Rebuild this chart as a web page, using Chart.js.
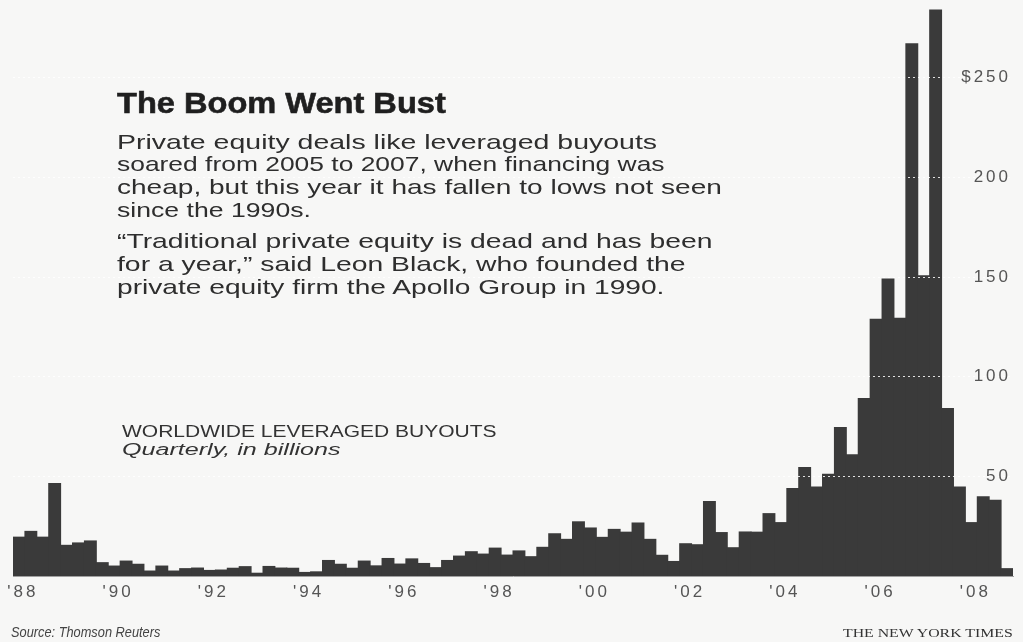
<!DOCTYPE html>
<html>
<head>
<meta charset="utf-8">
<title>The Boom Went Bust</title>
<script src="https://cdn.jsdelivr.net/npm/chart.js@4.4.0/dist/chart.umd.min.js"></script>
<style>
	html, body { margin: 0; padding: 0; background: #f7f7f6; }
	#wrap { position: relative; width: 1023px; height: 642px; overflow: hidden; }
	#lbo-chart { position: absolute; left: 0; top: 0; }
	.t {
		position: absolute;
		white-space: nowrap;
		line-height: 1;
		transform-origin: 0 0;
		font-family: "Liberation Sans", Arial, Helvetica, sans-serif;
		color: #2e2e2e;
	}
	.title { font-weight: bold; font-size: 30px; color: #1f1f1f; -webkit-text-stroke: 0.6px #1f1f1f; }
	.body { font-size: 21px; }
	.kicker { font-size: 16px; color: #333; }
	.note { font-size: 16px; font-style: italic; color: #333; }
	.source { font-size: 14px; font-style: italic; color: #444; }
	.credit { font-family: "Liberation Serif", "Times New Roman", serif; font-size: 12px; color: #333; }
</style>
</head>
<body>
<div id="wrap">
	<canvas id="lbo-chart" width="1023" height="642"></canvas>

	<div class="t title" style="left:117px;top:88px" data-w="329">The Boom Went Bust</div>
	<div class="t body" style="left:117px;top:131px" data-w="540">Private equity deals like leveraged buyouts</div>
	<div class="t body" style="left:117px;top:153px" data-w="547">soared from 2005 to 2007, when financing was</div>
	<div class="t body" style="left:117px;top:176px" data-w="605">cheap, but this year it has fallen to lows not seen</div>
	<div class="t body" style="left:117px;top:199px" data-w="194">since the 1990s.</div>
	<div class="t body" style="left:117px;top:230px" data-w="596">“Traditional private equity is dead and has been</div>
	<div class="t body" style="left:117px;top:253px" data-w="568">for a year,” said Leon Black, who founded the</div>
	<div class="t body" style="left:117px;top:276px" data-w="548">private equity firm the Apollo Group in 1990.</div>

	<div class="t kicker" style="left:122px;top:424px" data-w="374">WORLDWIDE LEVERAGED BUYOUTS</div>
	<div class="t note" style="left:122px;top:442px" data-w="218">Quarterly, in billions</div>

	<div class="t source" style="left:11px;top:625px" data-w="149">Source: Thomson Reuters</div>
	<div class="t credit" style="left:843px;top:627px" data-w="170">THE NEW YORK TIMES</div>
</div>

<script>
// Worldwide leveraged buyouts, quarterly, in billions of dollars
const years = [
	1988, 1989, 1990, 1991, 1992, 1993, 1994, 1995, 1996, 1997, 1998,
	1999, 2000, 2001, 2002, 2003, 2004, 2005, 2006, 2007, 2008,
];
const quarterNames = [ 'Q1', 'Q2', 'Q3', 'Q4' ];

// one row per year, Q1..Q4
const buyouts = [
	19.5, 22.4, 19.5, 46.4, // 1988
	15.4, 16.6, 17.6, 6.7, // 1989
	5.0, 7.5, 5.9, 2.5, // 1990
	5.0, 2.5, 3.7, 4.0, // 1991
	2.8, 3.0, 3.9, 4.7, // 1992
	1.4, 4.8, 4.0, 3.9, // 1993
	1.8, 2.1, 7.8, 5.9, // 1994
	3.9, 7.5, 5.1, 8.8, // 1995
	6.0, 8.6, 6.3, 4.2, // 1996
	7.8, 10.0, 12.2, 11.0, // 1997
	14.0, 10.5, 12.6, 9.7, // 1998
	14.4, 21.2, 18.4, 27.2, // 1999
	24.1, 19.4, 23.4, 22.0, // 2000
	26.6, 18.4, 10.4, 7.3, // 2001
	16.2, 15.7, 37.4, 21.8, // 2002
	14.2, 22.1, 22.0, 31.3, // 2003
	26.8, 43.9, 54.4, 44.7, // 2004
	51.1, 74.5, 60.8, 89.1, // 2005
	128.8, 149.0, 129.3, 267.0, // 2006
	150.6, 284.0, 84.1, 44.7, // 2007
	26.8, 39.7, 38.0, 3.7, // 2008
];

const yTicks = [ 50, 100, 150, 200, 250 ];
const labeledYears = [ 1988, 1990, 1992, 1994, 1996, 1998, 2000, 2002, 2004, 2006, 2008 ];

const quarterLabels = years.flatMap( ( y ) => quarterNames.map( ( q ) => `${ y } ${ q }` ) );

const tickFont = { family: '"Liberation Sans", Arial, sans-serif', size: 17 };

// wide newspaper tracking on the axis numbers
const trackingPlugin = {
	id: 'tracking',
	beforeLayout: ( chart ) => { chart.ctx.letterSpacing = '3px'; },
	beforeDraw: ( chart ) => { chart.ctx.letterSpacing = '3px'; },
};

// keep the plot flush with the page edges: no room reserved for edge labels
const noEdgePadding = ( axis ) => {
	axis.paddingTop = 0;
	axis.paddingBottom = 0;
	axis.paddingLeft = 0;
	axis.paddingRight = 0;
};

new Chart( document.getElementById( 'lbo-chart' ), {
	type: 'bar',
	data: {
		labels: quarterLabels,
		datasets: [
			{
				data: buyouts,
				backgroundColor: '#3a3a3a',
				borderWidth: 0,
				inflateAmount: 0.5,
				categoryPercentage: 1,
				barPercentage: 1,
			},
		],
	},
	options: {
		responsive: false,
		animation: false,
		devicePixelRatio: 1,
		layout: { padding: { left: 13, top: 0, right: 0, bottom: 0 } },
		plugins: {
			legend: { display: false },
			tooltip: { enabled: false },
		},
		scales: {
			x: {
				grid: { display: false, drawTicks: false },
				border: { color: '#a0a0a0', width: 1 },
				ticks: {
					autoSkip: false,
					maxRotation: 0,
					color: '#555',
					font: tickFont,
					padding: 6,
					labelOffset: 4,
					callback: ( value, index ) => {
						const [ y, q ] = quarterLabels[ index ].split( ' ' );
						return q === 'Q1' && labeledYears.includes( +y ) ? "'" + y.slice( 2 ) : '';
					},
				},
				afterFit: ( axis ) => {
					axis.height = 66;
					noEdgePadding( axis );
				},
			},
			y: {
				position: 'right',
				min: 0,
				max: 289,
				afterBuildTicks: ( axis ) => {
					axis.ticks = yTicks.map( ( v ) => ( { value: v } ) );
				},
				afterFit: ( axis ) => {
					axis.width = 10;
					noEdgePadding( axis );
				},
				grid: { color: 'rgba(255,255,255,0.85)', lineWidth: 1, drawTicks: false, z: 1 },
				border: { display: false, dash: [ 2, 3 ] },
				ticks: {
					mirror: true,
					padding: -2,
					color: '#555',
					font: tickFont,
					z: 2,
					callback: ( v ) => ( v === 250 ? '$250' : String( v ) ),
				},
			},
		},
	},
	plugins: [ trackingPlugin ],
} );

// stretch each text line to its set width
document.querySelectorAll( '[data-w]' ).forEach( ( el ) => {
	const s = Number( el.dataset.w ) / el.offsetWidth;
	el.style.transform = `scaleX(${ s })`;
} );
</script>
</body>
</html>
